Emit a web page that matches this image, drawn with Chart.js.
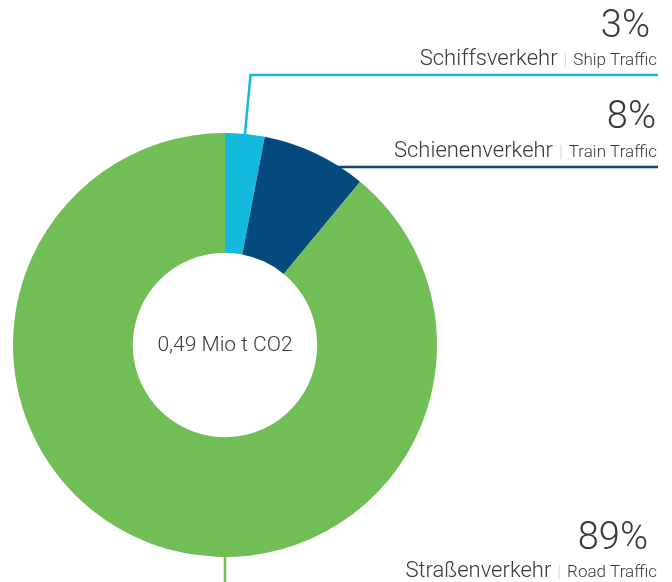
<!DOCTYPE html>
<html>
<head>
<meta charset="utf-8">
<script src="https://cdn.jsdelivr.net/npm/chart.js@4"></script>
<style>
  body { margin: 0; background: #fff; }
  #graphique { display: block; }
</style>
</head>
<body>
<canvas id="graphique" width="672" height="582"></canvas>
<script>
var categories = ['Schiffsverkehr', 'Schienenverkehr', 'Straßenverkehr']
var categoriesEn = ['Ship Traffic', 'Train Traffic', 'Road Traffic']
var shares = [3, 8, 89]
var colors = ['#14b9de', '#054a7c', '#70be55']
var centerLabel = '0,49 Mio t CO2'

var FONT = 'Roboto, "Liberation Sans", sans-serif'
var TEXT = '#383838'
var RIGHT = 657

// leader lines + labels, taken from the arc elements
var leaders = {
    id: 'leaders',
    beforeDatasetsDraw: function (chart) {
        var ctx = chart.ctx
        var arcs = chart.getDatasetMeta(0).data
        ctx.save()
        ctx.lineWidth = 2.5
        // ship: radial line out of the middle of the slice, then right
        var a = arcs[0]
        var mid = (a.startAngle + a.endAngle) / 2
        var lineY = 75
        var r1 = (a.y - lineY) / Math.sin(-mid)
        ctx.strokeStyle = colors[0]
        ctx.beginPath()
        ctx.moveTo(a.x + Math.cos(mid) * (a.outerRadius - 4), a.y + Math.sin(mid) * (a.outerRadius - 4))
        ctx.lineTo(a.x + Math.cos(mid) * r1, lineY)
        ctx.lineTo(RIGHT + 1, lineY)
        ctx.stroke()
        // train: horizontal line from behind the slice
        var b = arcs[1]
        ctx.strokeStyle = colors[1]
        ctx.beginPath()
        ctx.moveTo(b.x, 167)
        ctx.lineTo(RIGHT + 1, 167)
        ctx.stroke()
        // road: vertical line down from the bottom
        var c = arcs[2]
        ctx.strokeStyle = colors[2]
        ctx.beginPath()
        ctx.moveTo(c.x, c.y + c.outerRadius - 4)
        ctx.lineTo(c.x, chart.height)
        ctx.stroke()
        ctx.restore()
    },
    afterDatasetsDraw: function (chart) {
        var ctx = chart.ctx
        var arcs = chart.getDatasetMeta(0).data
        var baselines = [[37, 65], [128, 157], [549, 577]]
        var pctRight = [650, 656, 648]
        ctx.save()
        ctx.textAlign = 'right'
        ctx.textBaseline = 'alphabetic'
        for (var i = 0; i < categories.length; i++) {
            ctx.fillStyle = TEXT
            ctx.font = '300 38px ' + FONT
            ctx.fillText(shares[i] + '%', pctRight[i], baselines[i][0])
            var y = baselines[i][1]
            ctx.font = '300 17px ' + FONT
            ctx.fillText(categoriesEn[i], RIGHT, y)
            var x = RIGHT - ctx.measureText(categoriesEn[i]).width - 6
            ctx.fillStyle = '#d4d4d4'
            ctx.fillText('|', x, y)
            x -= ctx.measureText('|').width + 6
            ctx.fillStyle = TEXT
            ctx.font = '300 22px ' + FONT
            ctx.fillText(categories[i], x, y)
        }
        var a = arcs[0]
        ctx.textAlign = 'center'
        ctx.textBaseline = 'middle'
        ctx.font = '300 21px ' + FONT
        ctx.fillText(centerLabel, a.x, a.y + 1)
        ctx.restore()
    }
}

var ctx = document.getElementById('graphique')
var doughnut = new Chart(ctx, {
    type: 'doughnut',
    data: {
        labels: categories,
        datasets: [{
            data: shares,
            backgroundColor: colors,
            borderWidth: 0,
            hoverOffset: 0
        }]
    },
    options: {
        responsive: false,
        animation: false,
        cutout: '43.5%',
        layout: { padding: { left: 13, right: 235, top: 133, bottom: 25 } },
        plugins: {
            legend: { display: false },
            tooltip: { enabled: false }
        }
    },
    plugins: [leaders]
})
</script>
</body>
</html>
